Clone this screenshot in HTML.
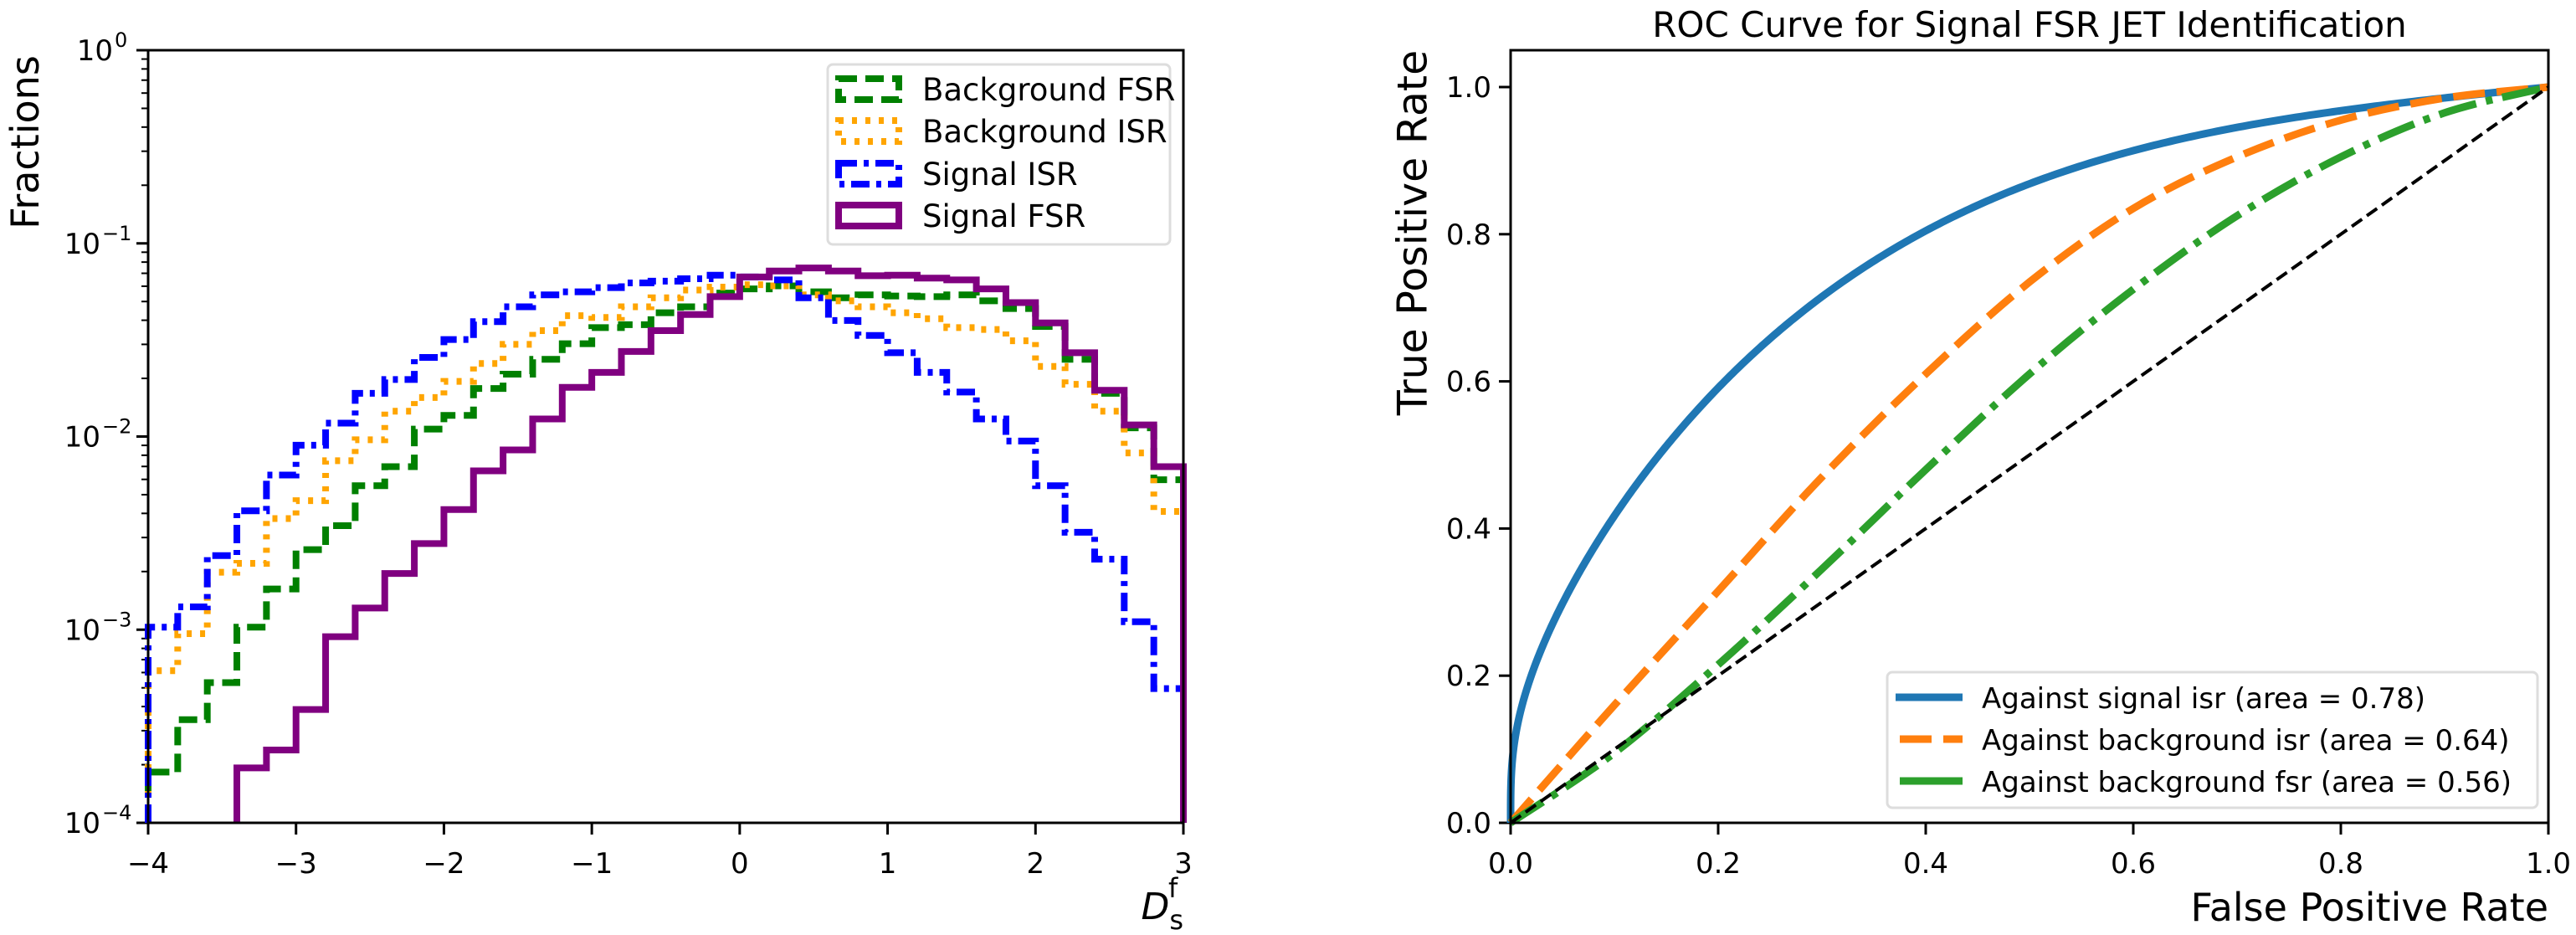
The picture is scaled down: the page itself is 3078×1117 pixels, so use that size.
<!DOCTYPE html>
<html><head><meta charset="utf-8"><style>
html,body{margin:0;padding:0;background:#fff;}
svg{display:block;}
text{font-family:"DejaVu Sans","Liberation Sans",sans-serif;fill:#000;}
</style></head><body>
<svg id="s" width="3078" height="1117" viewBox="0 0 3078 1117" xmlns="http://www.w3.org/2000/svg">
<g id="L"></g>
<g id="R"></g>
<rect x="177" y="60" width="1237" height="923" fill="none" stroke="#000" stroke-width="3"/>
<text x="30" y="170" font-size="46" text-anchor="middle" transform="rotate(-90 30 170)" dominant-baseline="central">Fractions</text>
<text x="1414" y="1098" font-size="44" text-anchor="end" font-style="italic">D<tspan font-style="normal" font-size="32" dy="12">s</tspan><tspan font-style="normal" font-size="32" dx="-18" dy="-38">f</tspan></text>
<rect x="989" y="77" width="409" height="215" rx="6" fill="#fff" fill-opacity="0.8" stroke="#ddd" stroke-width="3"/>
<rect x="1002" y="94" width="72" height="25" fill="none" stroke="green" stroke-width="8" stroke-dasharray="22 10"/>
<rect x="1002" y="144" width="72" height="25" fill="none" stroke="orange" stroke-width="8" stroke-dasharray="6 10"/>
<rect x="1002" y="195" width="72" height="25" fill="none" stroke="blue" stroke-width="8" stroke-dasharray="22 8 6 8"/>
<rect x="1002" y="245" width="72" height="25" fill="none" stroke="purple" stroke-width="8"/>
<text x="1102" y="120" font-size="37">Background FSR</text>
<text x="1102" y="170" font-size="37">Background ISR</text>
<text x="1102" y="221" font-size="37">Signal ISR</text>
<text x="1102" y="271" font-size="37">Signal FSR</text>
<rect x="1805" y="60" width="1240" height="923" fill="none" stroke="#000" stroke-width="3"/>
<text x="2425" y="44" font-size="42" text-anchor="middle">ROC Curve for Signal FSR JET Identification</text>
<text x="1688" y="278" font-size="49" text-anchor="middle" transform="rotate(-90 1688 278)" dominant-baseline="central">True Positive Rate</text>
<text x="3045" y="1100" font-size="46" text-anchor="end">False Positive Rate</text>
<rect x="2255" y="803" width="777" height="162" rx="6" fill="#fff" fill-opacity="0.8" stroke="#ddd" stroke-width="3"/>
<line x1="2265" y1="833" x2="2345" y2="833" stroke="#1f77b4" stroke-width="9"/>
<line x1="2270" y1="883" x2="2345" y2="883" stroke="#ff7f0e" stroke-width="9" stroke-dasharray="38 14"/>
<line x1="2270" y1="933" x2="2345" y2="933" stroke="#2ca02c" stroke-width="9"/>
<text x="2368" y="846" font-size="34">Against signal isr (area = 0.78)</text>
<text x="2368" y="896" font-size="34">Against background isr (area = 0.64)</text>
<text x="2368" y="946" font-size="34">Against background fsr (area = 0.56)</text>
</svg>
<script>
var NS="http://www.w3.org/2000/svg";
function el(p,n,a){var e=document.createElementNS(NS,n);for(var k in a)e.setAttribute(k,a[k]);p.appendChild(e);return e;}
var L=document.getElementById('L'),R=document.getElementById('R');
function lx(v){return 177+(v+4)*(1237/7);}
function ly(lg){return 60-lg*(923/4);}
function zy(z){return -(z-85)/323.75;}
for(var i=-4;i<=3;i++){var x=lx(i);el(L,'line',{x1:x,y1:983,x2:x,y2:997,stroke:'#000','stroke-width':3});
 var t=el(L,'text',{x:x,y:1043,'font-size':34,'text-anchor':'middle'});t.textContent=(i<0?'\u2212'+(-i):''+i);}
for(var d=0;d>=-4;d--){var y=ly(d);el(L,'line',{x1:163,y1:y,x2:177,y2:y,stroke:'#000','stroke-width':3});
 var t=el(L,'text',{x:150,y:y+12,'font-size':34,'text-anchor':'end'});t.textContent='10';
 var s=el(L,'text',{x:152,y:y-4,'font-size':24,'text-anchor':'start'});s.textContent=(d<0?'\u2212'+(-d):'0');
 var w=(d<0?30:15);t.setAttribute('x',150-w);s.setAttribute('x',152-w);
 if(d>-4)for(var m=2;m<=9;m++){var yy=ly(d-1+Math.log10(m));el(L,'line',{x1:169,y1:yy,x2:177,y2:yy,stroke:'#000','stroke-width':2});}}
function hist(vals,start,color,dash){
 var d='M'+lx(-4+0.2*start)+','+983;
 for(var i=0;i<vals.length;i++){var x0=lx(-4+0.2*(start+i)),x1=lx(-4+0.2*(start+i+1)),y=ly(zy(vals[i]));
  d+=' L'+x0+','+y+' L'+x1+','+y;}
 d+=' L'+lx(-4+0.2*(start+vals.length))+',983';
 var a={d:d,fill:'none',stroke:color,'stroke-width':8,'stroke-linejoin':'miter'};if(dash)a['stroke-dasharray']=dash;
 el(L,'path',a);}
var green=[1295,1207,1145,1052,988,922,882,815,783,720,697,652,628,603,577,550,545,525,515,492,485,480,490,500,495,497,498,495,505,518,548,603,660,718,805];
var orange=[1125,1063,960,945,870,840,773,738,690,667,640,610,578,555,530,533,515,500,487,482,478,480,495,505,515,525,535,550,553,572,615,645,690,760,858];
var blue=[1052,1018,932,857,797,747,710,660,637,600,570,540,515,495,490,483,475,472,468,462,465,470,500,538,563,592,625,658,703,740,815,893,938,1043,1155];
var purple=[1288,1258,1190,1068,1020,962,912,855,790,755,703,650,625,590,555,528,498,465,455,450,455,463,462,467,470,485,508,542,592,655,713,783];
hist(green,0,'green','22 10');
hist(orange,0,'orange','6 10');
hist(blue,0,'blue','22 8 6 8');
hist(purple,3,'purple',null);
function rx(v){return 1805+v*1240;}
function ry(v){return 983-v*879;}
for(var i=0;i<=5;i++){var v=i/5;var x=rx(v);el(R,'line',{x1:x,y1:983,x2:x,y2:997,stroke:'#000','stroke-width':3});
 var t=el(R,'text',{x:x,y:1043,'font-size':34,'text-anchor':'middle'});t.textContent=v.toFixed(1);
 var y=ry(v);el(R,'line',{x1:1791,y1:y,x2:1805,y2:y,stroke:'#000','stroke-width':3});
 var t2=el(R,'text',{x:1782,y:y+12,'font-size':34,'text-anchor':'end'});t2.textContent=v.toFixed(1);}
function curve(pts,color,dash,w){
 var P=pts.map(function(p){return [rx(p[0]),ry(p[1])];});
 var d='M'+P[0][0]+','+P[0][1];
 for(var i=0;i<P.length-1;i++){var p0=P[Math.max(i-1,0)],p1=P[i],p2=P[i+1],p3=P[Math.min(i+2,P.length-1)];
  var c1=[p1[0]+(p2[0]-p0[0])/6,p1[1]+(p2[1]-p0[1])/6],c2=[p2[0]-(p3[0]-p1[0])/6,p2[1]-(p3[1]-p1[1])/6];
  d+=' C'+c1+' '+c2+' '+p2;}
 var a={d:d,fill:'none',stroke:color,'stroke-width':w,'stroke-linecap':'butt'};if(dash)a['stroke-dasharray']=dash;
 el(R,'path',a);}
var bp=[];
for(var i=0;i<=400;i++){var x=Math.pow(i/400,2);bp.push([x,(1-Math.pow(1-x,3.55)+Math.pow(x,0.282))/2]);}
var d='M'+bp.map(function(p){return rx(p[0]).toFixed(2)+','+ry(p[1]).toFixed(2);}).join(' L');
el(R,'path',{d:d,fill:'none',stroke:'#1f77b4','stroke-width':9,'stroke-linejoin':'round'});
curve([[0,0],[0.1,0.16],[0.2,0.315],[0.3,0.47],[0.4,0.61],[0.5,0.735],[0.6,0.835],[0.7,0.905],[0.8,0.955],[0.9,0.985],[1,1]],'#ff7f0e','38 14',9);
curve([[0,0],[0.1,0.095],[0.2,0.215],[0.3,0.345],[0.4,0.48],[0.5,0.61],[0.6,0.725],[0.7,0.825],[0.8,0.905],[0.9,0.965],[1,1]],'#2ca02c','46 12 8 12',9);
el(R,'line',{x1:rx(0),y1:ry(0),x2:rx(1),y2:ry(1),stroke:'#000','stroke-width':4,'stroke-dasharray':'15 7'});
</script>
</body></html>
